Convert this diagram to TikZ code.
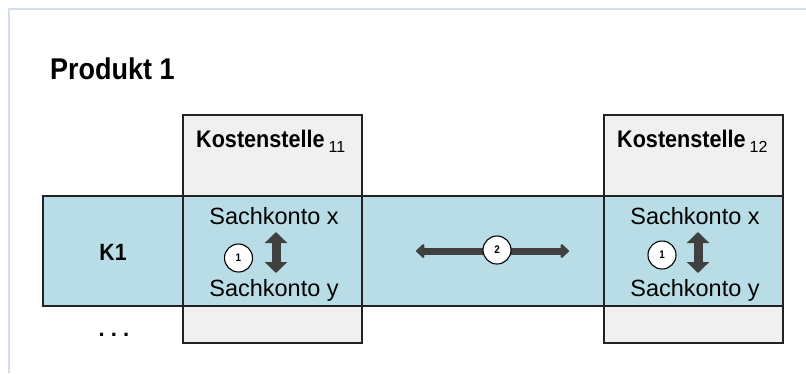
\documentclass[tikz,border=0pt]{standalone}
\usepackage{fontspec}
\setmainfont{Liberation Sans}
\newfontfamily\narrowfont{Liberation Sans}[FakeStretch=0.9]
\usetikzlibrary{arrows.meta}
\definecolor{framec}{HTML}{D3DEEC}
\definecolor{bandc}{HTML}{B8DDE6}
\definecolor{boxc}{HTML}{F0F0F0}
\definecolor{arrc}{HTML}{404040}
\definecolor{linec}{HTML}{222222}
\tikzset{
  boxframe/.style={draw=linec, line width=1.3pt},
  bandbox/.style={draw=linec, line width=1.3pt, fill=bandc},
  ksbox/.style={draw=linec, line width=1.3pt, fill=boxc},
  numcirc/.style={circle, draw=black, line width=1.1pt, fill=white, minimum size=28pt, inner sep=0pt, font=\narrowfont\bfseries\fontsize{11}{13}\selectfont},
  vert/.style={draw=arrc, line width=9pt, {Triangle[length=11pt,width=22pt]}-{Triangle[length=11pt,width=22pt]}},
  horiz/.style={draw=arrc, line width=7pt, {Triangle[length=9pt,width=16pt,round]}-{Triangle[length=9pt,width=16pt,round]}},
  sk/.style={font=\fontsize{23.5}{27}\selectfont, text=black, inner sep=0pt},
  ks/.style={font=\narrowfont\bfseries\fontsize{24}{28}\selectfont, anchor=base west, inner sep=0pt},
}
\begin{document}
\begin{tikzpicture}[x=1pt,y=-1pt]
\useasboundingbox (0,0) rectangle (806,373);
\fill[white] (0,0) rectangle (806,373);
% outer frame
\draw[framec, line width=1.6pt] (9,373) -- (9,9) -- (806,9);
% title
\node[anchor=base west, inner sep=0pt, font=\narrowfont\bfseries\fontsize{30}{34}\selectfont] (title) at (50,79) {Produkt 1};
% cost centre boxes
\path[ksbox] (183,115) rectangle (362,343);
\path[ksbox] (604,115) rectangle (783,343);
% band
\path[bandbox] (43,196) rectangle (783,306);
% redraw box outlines
\path[boxframe] (183,115) rectangle (362,343);
\path[boxframe] (604,115) rectangle (783,343);
% headers
\node[ks] (ks11) at (196,147) {Kostenstelle\,{\normalfont\fontsize{16}{18}\selectfont\raisebox{-5pt}{11}}};
\node[ks] (ks12) at (617,147) {Kostenstelle\,{\normalfont\fontsize{16}{18}\selectfont\raisebox{-5pt}{12}}};
% row label
\node[font=\narrowfont\bfseries\fontsize{23.5}{27}\selectfont, inner sep=0pt] (k1) at (113,252) {K1};
\node[font=\bfseries\fontsize{22}{26}\selectfont, anchor=base, inner sep=0pt] (dots) at (114,336) {.\ .\ .};
% left cell
\node[sk] (sxl) at (274,216) {Sachkonto x};
\node[sk] (syl) at (274,290) {Sachkonto y};
\coordinate (vlt) at (276,232);
\coordinate (vlb) at (276,273);
\path[vert] (vlt) -- (vlb);
\node[numcirc] (c1l) at (238.5,258) {1};
% right cell
\node[sk] (sxr) at (695,216) {Sachkonto x};
\node[sk] (syr) at (695,290) {Sachkonto y};
\coordinate (vrt) at (698,232);
\coordinate (vrb) at (698,273);
\path[vert] (vrt) -- (vrb);
\node[numcirc] (c1r) at (662,255) {1};
% horizontal arrow
\coordinate (hl) at (416,251);
\coordinate (hr) at (569,251);
\path[horiz] (hl) -- (hr);
\node[numcirc] (c2) at (497,250) {2};
\end{tikzpicture}
\end{document}
